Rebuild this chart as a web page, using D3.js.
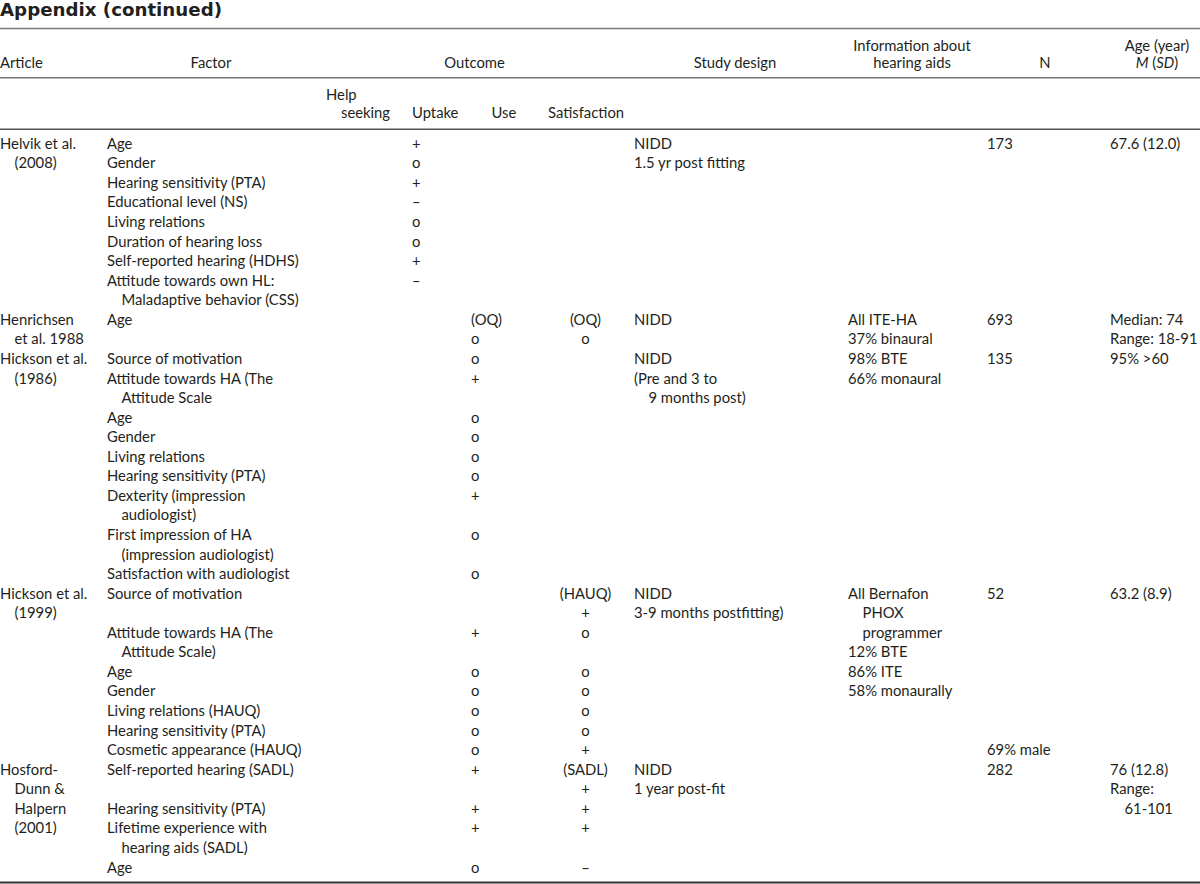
<!DOCTYPE html>
<html><head><meta charset="utf-8">
<script src="https://cdn.jsdelivr.net/npm/d3@7"></script>
<style>body{margin:0;background:#fff} svg{display:block}</style>
</head><body>
<svg id="c" width="1200" height="884"></svg>
<script>
// ---------- DATA ----------
const title = "Appendix (continued)";
const headerCols = ["Article", "Factor", "Outcome", "Study design", ["Information about", "hearing aids"], "N", ["Age (year)", "M (SD)"]];
const outcomeCols = [["Help", "seeking"], ["Uptake"], ["Use"], ["Satisfaction"]];

const articles = [
  ["Helvik et al.", "(2008)"],
  ["Henrichsen", "et al. 1988"],
  ["Hickson et al.", "(1986)"],
  ["Hickson et al.", "(1999)"],
  ["Hosford-", "Dunn &", "Halpern", "(2001)"]
];

// each factor: [factor label lines, uptake, use, satisfaction]
const factorsHelvik = [
  [["Age"], ["+"], [], []],
  [["Gender"], ["o"], [], []],
  [["Hearing sensitivity (PTA)"], ["+"], [], []],
  [["Educational level (NS)"], ["–"], [], []],
  [["Living relations"], ["o"], [], []],
  [["Duration of hearing loss"], ["o"], [], []],
  [["Self-reported hearing (HDHS)"], ["+"], [], []],
  [["Attitude towards own HL:", "Maladaptive behavior (CSS)"], ["–"], [], []]
];
const factorsHenrichsen = [
  [["Age"], [], ["(OQ)", "o"], ["(OQ)", "o"]]
];
const factorsHickson1986 = [
  [["Source of motivation"], [], ["o"], []],
  [["Attitude towards HA (The", "Attitude Scale"], [], ["+"], []],
  [["Age"], [], ["o"], []],
  [["Gender"], [], ["o"], []],
  [["Living relations"], [], ["o"], []],
  [["Hearing sensitivity (PTA)"], [], ["o"], []],
  [["Dexterity (impression", "audiologist)"], [], ["+"], []],
  [["First impression of HA", "(impression audiologist)"], [], ["o"], []],
  [["Satisfaction with audiologist"], [], ["o"], []]
];
const factorsHickson1999 = [
  [["Source of motivation"], [], [], ["(HAUQ)", "+"]],
  [["Attitude towards HA (The", "Attitude Scale)"], [], ["+"], ["o"]],
  [["Age"], [], ["o"], ["o"]],
  [["Gender"], [], ["o"], ["o"]],
  [["Living relations (HAUQ)"], [], ["o"], ["o"]],
  [["Hearing sensitivity (PTA)"], [], ["o"], ["o"]],
  [["Cosmetic appearance (HAUQ)"], [], ["o"], ["+"]]
];
const factorsHosford = [
  [["Self-reported hearing (SADL)"], [], ["+"], ["(SADL)", "+"]],
  [["Hearing sensitivity (PTA)"], [], ["+"], ["+"]],
  [["Lifetime experience with", "hearing aids (SADL)"], [], ["+"], ["+"]],
  [["Age"], [], ["o"], ["–"]]
];
const factorGroups = [factorsHelvik, factorsHenrichsen, factorsHickson1986, factorsHickson1999, factorsHosford];

const designs = [
  [["NIDD"], ["1.5 yr post fitting"]],
  [["NIDD"]],
  [["NIDD"], ["(Pre and 3 to", "9 months post)"]],
  [["NIDD"], ["3-9 months postfitting)"]],
  [["NIDD"], ["1 year post-fit"]]
];
const infos = [
  [],
  [["All ITE-HA"], ["37% binaural"]],
  [["98% BTE"], ["66% monaural"]],
  [["All Bernafon", "PHOX", "programmer"], ["12% BTE"], ["86% ITE"], ["58% monaurally"]],
  []
];
const sampleN = [
  ["173"],
  ["693"],
  ["135"],
  ["52", "", "", "", "", "", "", "", "69% male"],
  ["282"]
];
const ages = [
  [["67.6 (12.0)"]],
  [["Median: 74"], ["Range: 18-91"]],
  [["95% >60"]],
  [["63.2 (8.9)"]],
  [["76 (12.8)"], ["Range:", "61-101"]]
];

// ---------- LAYOUT ----------
const FONT = "Lato, 'DejaVu Sans', sans-serif";
const FS = 14.8;
const INK = "#231f20";
const colKeys = ["article", "factor", "up", "use", "sat", "design", "info", "n", "age"];
const colX = d3.scaleOrdinal().domain(colKeys).range([0, 107, 412, 471, 585.5, 634, 848, 987, 1110]);
const colAnchor = k => (k === "sat" ? "middle" : "start");
const INDENT = 14.5;

const cells = [];
let row = 0;
function pushItems(items, key, start) {
  let r = start;
  items.forEach(item => {
    item.forEach((t, i) => {
      if (t !== "") cells.push({ row: r, key, text: t, indent: i > 0 ? 1 : 0 });
      r++;
    });
  });
  return r - start;
}
factorGroups.forEach((group, s) => {
  const start = row;
  const hArt = pushItems([articles[s]], "article", start);
  let r = start;
  group.forEach(f => {
    const h = Math.max(f[0].length, f[1].length, f[2].length, f[3].length);
    pushItems([f[0]], "factor", r);
    f[1].forEach((t, i) => cells.push({ row: r + i, key: "up", text: t, indent: 0 }));
    f[2].forEach((t, i) => cells.push({ row: r + i, key: "use", text: t, indent: 0 }));
    f[3].forEach((t, i) => cells.push({ row: r + i, key: "sat", text: t, indent: 0 }));
    r += h;
  });
  const hD = pushItems(designs[s], "design", start);
  const hI = pushItems(infos[s], "info", start);
  const hN = pushItems(sampleN[s].map(t => [t]), "n", start);
  const hA = pushItems(ages[s], "age", start);
  row = start + Math.max(r - start, hArt, hD, hI, hN, hA);
});

const nRows = row;
const y = d3.scaleLinear().domain([0, nRows - 1]).range([148.8, 148.8 + (nRows - 1) * 19.56]);

const svg = d3.select("#c");

// title
svg.append("text").attr("x", 0).attr("y", 16.2)
  .attr("font-family", "'DejaVu Sans', Lato, sans-serif").attr("font-weight", 700).attr("font-size", 17)
  .attr("textLength", 222).attr("lengthAdjust", "spacingAndGlyphs")
  .attr("fill", INK).text(title);

// rules
const rules = [
  { y: 28.5, c: "#7a7a7a", w: 1.6 },
  { y: 77.8, c: "#7a7a7a", w: 1.6 },
  { y: 129.2, c: "#555", w: 1.4 },
  { y: 882.5, c: "#333", w: 2 }
];
svg.selectAll("line.rule").data(rules).join("line").attr("class", "rule")
  .attr("x1", 0).attr("x2", 1200).attr("y1", d => d.y).attr("y2", d => d.y)
  .attr("stroke", d => d.c).attr("stroke-width", d => d.w);

// header
const headerPos = [
  { x: 0, a: "start" }, { x: 211, a: "middle" }, { x: 474.5, a: "middle" }, { x: 735, a: "middle" },
  { x: 912, a: "middle" }, { x: 1045, a: "middle" }, { x: 1157, a: "middle" }
];
const hdr = svg.append("g").attr("font-family", FONT).attr("font-size", FS).attr("fill", INK);
headerCols.forEach((h, i) => {
  const lines = Array.isArray(h) ? h : [h];
  lines.forEach((t, j) => {
    const ty = 68 - (lines.length - 1 - j) * 17;
    const tx = hdr.append("text").attr("x", headerPos[i].x).attr("y", ty).attr("text-anchor", headerPos[i].a);
    if (t === "M (SD)") {
      tx.append("tspan").attr("font-style", "italic").text("M");
      tx.append("tspan").text(" (");
      tx.append("tspan").attr("font-style", "italic").text("SD");
      tx.append("tspan").text(")");
    } else tx.text(t);
  });
});
const subX = [326, 412, 491.5, 548];
outcomeCols.forEach((h, i) => {
  h.forEach((t, j) => {
    hdr.append("text").attr("x", subX[i] + (j > 0 ? 15 : 0))
      .attr("y", 118 - (h.length - 1 - j) * 18).text(t);
  });
});

// body
svg.append("g").attr("font-family", FONT).attr("font-size", FS).attr("fill", INK)
  .selectAll("text").data(cells).join("text")
  .attr("x", d => colX(d.key) + d.indent * INDENT)
  .attr("y", d => y(d.row))
  .attr("text-anchor", d => colAnchor(d.key))
  .text(d => d.text);
</script>
</body></html>
